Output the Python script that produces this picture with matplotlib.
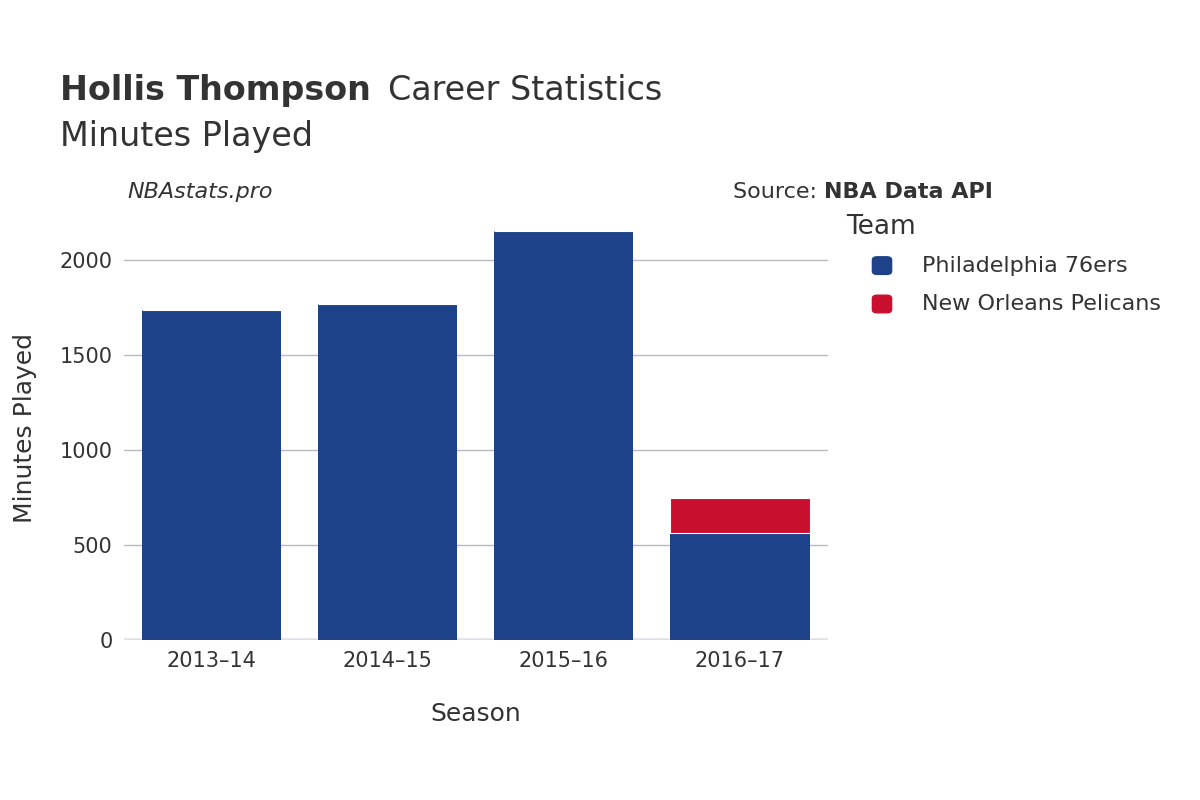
import matplotlib.pyplot as plt
from matplotlib.patches import FancyBboxPatch

seasons = ["2013–14", "2014–15", "2015–16", "2016–17"]
phi_minutes = [1737, 1768, 2149, 562]
nop_minutes = [0, 0, 0, 185]
yticks = [0, 500, 1000, 1500, 2000]

phi_color = "#1d4289"
nop_color = "#c8102e"
text_color = "#333333"

fig = plt.figure(figsize=(12, 8), dpi=100)
ax = fig.add_axes([0.103, 0.2, 0.587, 0.53])

x = range(len(seasons))
ax.bar(x, phi_minutes, width=0.79, color=phi_color, zorder=2)
ax.bar(x, nop_minutes, width=0.79, bottom=phi_minutes, color=nop_color,
       edgecolor="white", linewidth=0.8, zorder=2)

ax.set_xlim(-0.5, 3.5)
ax.set_ylim(0, 2230)
ax.set_yticks(yticks)
ax.set_xticks(list(x))
ax.set_xticklabels(seasons)
ax.tick_params(axis="both", length=0, labelsize=15, colors=text_color, pad=8)
ax.grid(axis="y", color="#bbbbbb", linewidth=1, zorder=0)
ax.axhline(0, color="#e8e8ee", linewidth=3, zorder=1)
for s in ax.spines.values():
    s.set_visible(False)

ax.set_xlabel("Season", fontsize=18, color=text_color, labelpad=22)
ax.set_ylabel("Minutes Played", fontsize=18, color=text_color, labelpad=16)

fig.text(0.05, 0.875, "Hollis Thompson", fontsize=24, fontweight="bold", color=text_color)
fig.text(0.323, 0.875, "Career Statistics", fontsize=24, color=text_color)
fig.text(0.05, 0.818, "Minutes Played", fontsize=24, color=text_color)
fig.text(0.106, 0.752, "NBAstats.pro", fontsize=16, style="italic", color=text_color)
fig.text(0.687, 0.752, "Source: ", fontsize=16, color=text_color, ha="right")
fig.text(0.687, 0.752, "NBA Data API", fontsize=16, fontweight="bold", color=text_color)

fig.text(0.705, 0.707, "Team", fontsize=19, color=text_color)
for i, (name, c) in enumerate([("Philadelphia 76ers", phi_color),
                               ("New Orleans Pelicans", nop_color)]):
    yy = 0.668 - i * 0.048
    fig.patches.append(FancyBboxPatch((0.727, yy - 0.011), 0.016, 0.022,
                                      boxstyle="round,pad=0,rounding_size=0.004",
                                      transform=fig.transFigure, color=c))
    fig.text(0.768, yy, name, fontsize=16, color=text_color, va="center")

fig.savefig("out.png", dpi=100)
